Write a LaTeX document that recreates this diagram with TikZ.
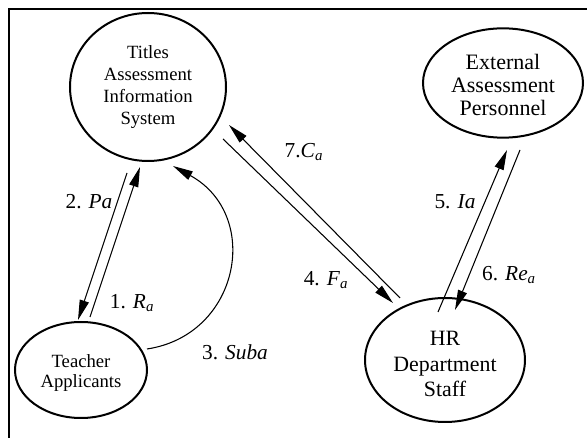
\documentclass[tikz,border=0pt]{standalone}
\usepackage{fontspec}
\setmainfont{Liberation Serif}
\usetikzlibrary{shapes.geometric,arrows.meta}
\begin{document}
\begin{tikzpicture}[x=0.75pt,y=-0.75pt,
  proc/.style={draw,ellipse,line width=1.5pt,inner sep=0pt,align=center},
  ptext/.style={align=center,inner sep=0pt},
  flow/.style={line width=0.8pt,-{Triangle[length=15pt,width=7pt]}},
  lbl/.style={font=\fontsize{16}{19}\selectfont,inner sep=0pt}]
\useasboundingbox (0,0) rectangle (587,438);
\coordinate (fr1) at (587,9);
\coordinate (fr2) at (9,9);
\coordinate (fr3) at (9,438);
\draw[line width=1.5pt] (fr1) -- (fr2) -- (fr3);

\node[proc,minimum width=117pt,minimum height=111pt,font=\fontsize{14}{16.5}\selectfont] (tais) at (148,87) {Titles\\Assessment\\Information\\System};
\node[proc,minimum width=120pt,minimum height=82pt] (ext) at (503,83) {};
\node[ptext,font=\fontsize{16.5}{17.5}\selectfont] (extt) at (503,85) {External\\Assessment\\Personnel};
\node[proc,minimum width=99pt,minimum height=72pt] (teach) at (81,370) {};
\node[ptext,font=\fontsize{14}{15}\selectfont] (teacht) at (81,373) {Teacher\\Applicants};
\node[proc,minimum width=120pt,minimum height=93pt] (hr) at (445,360) {};
\node[ptext,font=\fontsize{16.4}{19}\selectfont] (hrt) at (445,364) {HR\\Department\\Staff};

\coordinate (pa1) at (127,173); \coordinate (pa2) at (78,320);
\coordinate (ra1) at (90,317);  \coordinate (ra2) at (140,167);
\coordinate (sb1) at (147,349); \coordinate (sb2) at (173,166);
\coordinate (ca1) at (400,298); \coordinate (ca2) at (229,125);
\coordinate (fa1) at (223,139); \coordinate (fa2) at (393,303);
\coordinate (ia1) at (438,312); \coordinate (ia2) at (507,150);
\coordinate (re1) at (520,150); \coordinate (re2) at (455,310);

\draw[flow] (pa1) -- (pa2);
\draw[flow] (ra1) -- (ra2);
\draw[flow] (sb1) .. controls (240,335) and (262,215) .. (sb2);
\draw[flow] (ca1) -- (ca2);
\draw[flow] (fa1) -- (fa2);
\draw[flow] (ia1) -- (ia2);
\draw[flow] (re1) -- (re2);

\node[lbl] (lpa) at (89,202) {2. \textit{Pa}};
\node[lbl] (lra) at (132,303) {1. \textit{R}\textsubscript{\textit{a}}};
\node[lbl] (lsb) at (235,352) {3. \textit{Suba}};
\node[lbl] (lca) at (304,152) {7.\textit{C}\textsubscript{\textit{a}}};
\node[lbl] (lfa) at (326,280) {4. \textit{F}\textsubscript{\textit{a}}};
\node[lbl] (lia) at (455,202) {5. \textit{Ia}};
\node[lbl] (lre) at (509,275) {6. \textit{Re}\textsubscript{\textit{a}}};
\end{tikzpicture}
\end{document}
